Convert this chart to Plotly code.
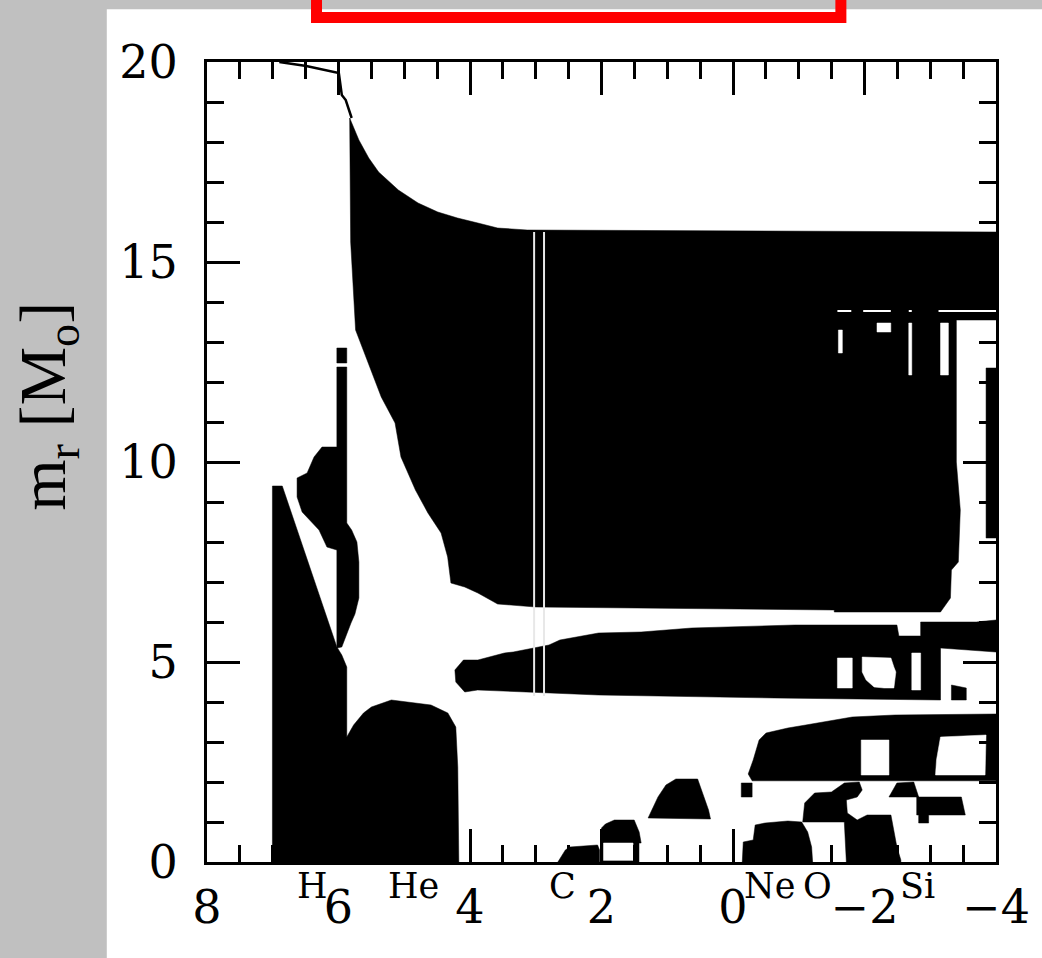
import plotly.graph_objects as go

# ---------------- data (x = log10 time to collapse [yr], y = m_r [Msun]) -------------
x_ticks = [8, 6, 4, 2, 0, -2, -4]
x_ticktext = ["8", "6", "4", "2", "0", "\u22122", "\u22124"]
y_ticks = [0, 5, 10, 15, 20]

elements = ["H", "He", "C", "Ne", "O", "Si"]
element_x = [6.40, 4.86, 2.60, -0.56, -1.28, -2.80]

# stellar surface (total mass)
surface_t = [6.90, 6.49, 5.995, 5.95, 5.89, 5.80]
surface_m = [20.0, 19.9, 19.725, 19.175, 19.05, 18.6]

# convective envelope
envelope = [(5.83, 18.6), (5.69, 18.05), (5.54, 17.6), (5.39, 17.25), (5.09, 16.8),
            (4.79, 16.475), (4.49, 16.25), (4.19, 16.1), (3.88, 15.975), (3.58, 15.85),
            (3.13, 15.8), (-4.0, 15.75), (-4.0, 13.55), (-3.397, 13.55), (-3.397, 10.0),
            (-3.457, 8.8), (-3.427, 7.5), (-3.322, 7.3), (-3.307, 6.6), (-3.156, 6.25),
            (-1.54, 6.25), (-1.54, 6.3), (3.0, 6.375), (3.58, 6.45), (3.88, 6.725),
            (4.08, 6.875), (4.29, 6.975), (4.34, 7.625), (4.44, 8.225), (4.64, 8.725),
            (4.83, 9.3), (5.05, 10.125), (5.14, 10.975), (5.35, 11.625), (5.74, 13.3),
            (5.815, 15.5)]
envelope_strip = [(-3.849, 12.35), (-4.0, 12.35), (-4.0, 8.1), (-3.849, 8.1)]
envelope_gaps = [
    [(-1.603, 13.3), (-1.663, 13.3), (-1.663, 12.725), (-1.603, 12.725)],
    [(-2.19, 13.475), (-2.40, 13.475), (-2.40, 13.25), (-2.19, 13.25)],
    [(-2.673, 13.475), (-2.719, 13.475), (-2.719, 12.175), (-2.673, 12.175)],
    [(-3.156, 13.475), (-3.276, 13.475), (-3.276, 12.175), (-3.156, 12.175)],
]
gap_line_x = [-1.588, -1.799, None, -1.98, -2.40, None, -2.673, -2.719, None, -3.126, -4.0]
gap_line_y = [13.775, 13.775, None, 13.775, 13.775, None, 13.775, 13.775, None, 13.775, 13.775]
split_x = [3.025, 3.025, None, 2.874, 2.874]
split_y = [15.75, 4.15, None, 15.75, 4.15]

# central hydrogen + helium burning cores
core_hhe = [(7.005, 0), (7.005, 9.4), (6.855, 9.4), (6.025, 5.375), (5.95, 5.175),
            (5.874, 4.875), (5.874, 3.125), (5.77, 3.425), (5.62, 3.725), (5.50, 3.875),
            (5.196, 4.05), (4.593, 3.925), (4.337, 3.725), (4.216, 3.375), (4.186, 2.375),
            (4.17, 0)]

# hydrogen shell
h_shell = [(6.025, 12.375), (5.874, 12.375), (5.874, 8.475), (5.80, 8.3), (5.72, 8.0),
           (5.69, 7.5), (5.69, 6.6), (5.75, 6.2), (5.81, 5.975), (5.95, 5.375),
           (6.025, 5.35), (6.025, 7.8), (6.176, 7.875), (6.296, 8.3), (6.553, 8.75),
           (6.63, 9.125), (6.63, 9.6), (6.477, 9.725), (6.372, 10.125), (6.251, 10.375),
           (6.025, 10.375)]
h_shell_top = [(6.025, 12.85), (5.874, 12.85), (5.874, 12.475), (6.025, 12.475)]

# helium shell band
he_shell = [(4.23, 4.8), (4.10, 5.05), (3.88, 5.05), (3.477, 5.225), (3.342, 5.25),
            (2.799, 5.425), (2.633, 5.55), (2.045, 5.725), (1.397, 5.75), (0.628, 5.85),
            (-0.94, 5.925), (-2.493, 5.925), (-2.523, 5.65), (-2.854, 5.65), (-2.854, 6.0),
            (-3.70, 6.0), (-4.0, 6.05), (-4.0, 5.25), (-3.156, 5.35), (-3.156, 4.05),
            (-0.638, 4.1), (2.045, 4.175), (3.884, 4.3), (4.08, 4.25), (4.216, 4.5)]
he_shell_gaps = [
    [(-1.588, 5.1), (-1.814, 5.1), (-1.814, 4.35), (-1.588, 4.35)],
    [(-1.965, 5.125), (-2.402, 5.1), (-2.447, 4.875), (-2.477, 4.75), (-2.447, 4.35),
     (-2.297, 4.35), (-2.146, 4.375), (-2.025, 4.55), (-1.965, 4.75)],
    [(-2.719, 5.225), (-2.854, 5.225), (-2.854, 4.3), (-2.719, 4.3)],
]
he_shell_speck = [(-3.322, 4.425), (-3.548, 4.35), (-3.548, 4.05), (-3.322, 4.05)]

# carbon shell band
c_shell_band = [(-0.291, 2.03), (-0.231, 2.2), (-0.307, 2.55), (-0.397, 3.05), (-0.503, 3.225),
                (-0.834, 3.35), (-1.106, 3.425), (-1.543, 3.55), (-1.814, 3.625),
                (-2.462, 3.675), (-4.0, 3.7), (-4.0, 2.03)]
c_shell_gaps = [
    [(-1.95, 3.05), (-2.372, 3.05), (-2.372, 2.175), (-1.95, 2.175)],
    [(-3.156, 3.125), (-3.849, 3.175), (-3.834, 2.175), (-3.08, 2.175), (-3.095, 2.55)],
]
c_shell_speck = [(-0.126, 1.975), (-0.291, 1.975), (-0.291, 1.625), (-0.126, 1.625)]

# carbon core and shells
c_core = [(2.663, 0), (2.55, 0.3), (2.482, 0.375), (2.06, 0.425), (2.03, 0.3), (2.03, 0)]
c_box = [(2.0, 0), (2.0, 0.85), (1.94, 0.95), (1.804, 1.05), (1.503, 1.05), (1.427, 0.75),
         (1.397, 0.475), (1.43, 0.475), (1.43, 0)]
c_box_gap = [(1.97, 0.475), (1.52, 0.475), (1.52, 0.04), (1.97, 0.04)]
c_shell = [(1.291, 1.1), (1.141, 1.625), (1.02, 1.925), (0.869, 2.075), (0.538, 2.075),
           (0.447, 1.625), (0.372, 1.3), (0.342, 1.075)]

# neon core
ne_core = [(-0.141, 0), (-0.156, 0.5), (-0.307, 0.55), (-0.337, 0.925), (-0.488, 0.975),
           (-0.638, 1.0), (-0.834, 1.025), (-1.045, 1.0), (-1.136, 0.75), (-1.196, 0.375),
           (-1.211, 0)]

# oxygen core / shell
o_zone = [(-1.060, 1.0), (-1.090, 1.475), (-1.241, 1.725), (-1.497, 1.75), (-1.693, 1.975),
          (-1.920, 2.0), (-1.965, 1.8), (-1.889, 1.625), (-1.724, 1.55), (-1.739, 1.225),
          (-1.889, 1.05), (-2.040, 1.175), (-2.402, 1.175), (-2.447, 0.725), (-2.493, 0.375),
          (-2.553, 0.05), (-2.553, 0), (-1.724, 0), (-1.693, 0.875), (-1.693, 1.0)]

# silicon zones
si_zone1 = [(-2.372, 1.625), (-2.493, 1.975), (-2.749, 2.0), (-2.824, 1.625)]
si_zone2 = [(-2.794, 1.625), (-3.473, 1.625), (-3.533, 1.175), (-2.975, 1.175),
            (-2.975, 0.975), (-2.824, 0.975), (-2.824, 1.175), (-2.794, 1.175)]

# ---------------- figure -----------------------------------------------------------
fig = go.Figure()


def poly(pts, color):
    xs = [p[0] for p in pts] + [pts[0][0]]
    ys = [p[1] for p in pts] + [pts[0][1]]
    fig.add_trace(go.Scatter(x=xs, y=ys, mode="lines", fill="toself",
                             fillcolor=color, line=dict(color=color, width=0.5),
                             hoverinfo="skip", showlegend=False))


for zone in [envelope, envelope_strip, core_hhe, h_shell, h_shell_top, he_shell,
             c_shell_band, c_core, c_box, c_shell, ne_core, o_zone, si_zone1, si_zone2]:
    poly(zone, "black")

for gap in envelope_gaps + he_shell_gaps + c_shell_gaps + [c_box_gap]:
    poly(gap, "white")

for speck in [he_shell_speck, c_shell_speck]:
    poly(speck, "black")

fig.add_trace(go.Scatter(x=split_x, y=split_y, mode="lines",
                         line=dict(color="#e8e8e8", width=2), hoverinfo="skip",
                         showlegend=False))
fig.add_trace(go.Scatter(x=gap_line_x, y=gap_line_y, mode="lines",
                         line=dict(color="white", width=2), hoverinfo="skip",
                         showlegend=False))
fig.add_trace(go.Scatter(x=surface_t, y=surface_m, mode="lines",
                         line=dict(color="black", width=2.5), hoverinfo="skip",
                         showlegend=False))

tick_font = dict(family="DejaVu Serif", size=46, color="black")

fig.update_xaxes(range=[8, -4], tickvals=x_ticks, ticktext=x_ticktext,
                 ticks="inside", ticklen=33, tickwidth=3, tickcolor="black",
                 minor=dict(dtick=0.5, tick0=0, ticks="inside", ticklen=17,
                            tickwidth=3, tickcolor="black"),
                 showline=True, linewidth=3, linecolor="black", mirror="ticks",
                 showgrid=False, zeroline=False, tickfont=tick_font,
                 ticklabelstandoff=3)
fig.update_yaxes(range=[0, 20], tickvals=y_ticks,
                 ticks="inside", ticklen=33, tickwidth=3, tickcolor="black",
                 minor=dict(dtick=1, tick0=0, ticks="inside", ticklen=17,
                            tickwidth=3, tickcolor="black"),
                 showline=True, linewidth=3, linecolor="black", mirror="ticks",
                 showgrid=False, zeroline=False, tickfont=tick_font,
                 ticklabelstandoff=17)

annotations = []
for name, xv in zip(elements, element_x):
    annotations.append(dict(x=xv, y=0, xref="x", yref="y", text=name, showarrow=False,
                            xanchor="center", yanchor="middle", yshift=-24,
                            font=dict(family="DejaVu Serif", size=35, color="black")))
annotations.append(dict(x=-0.203, y=0.57, xref="paper", yref="paper",
                        text="m<sub>r</sub> [M<sub>o</sub>]", showarrow=False,
                        textangle=-90, xanchor="center", yanchor="middle",
                        font=dict(family="Liberation Serif", size=66, color="black")))

shapes = [
    dict(type="rect", xref="paper", yref="paper", x0=-0.127, x1=1.06, y0=-0.13, y1=1.066,
         fillcolor="white", line=dict(width=0), layer="below"),
    dict(type="rect", xref="paper", yref="paper", x0=0.1388, x1=0.8034, y0=1.0556, y1=1.11,
         fillcolor="rgba(0,0,0,0)", line=dict(color="#ff0000", width=11), layer="above"),
]

fig.update_layout(width=1042, height=958, autosize=False,
                  margin=dict(l=207, r=39, t=62, b=96),
                  paper_bgcolor="#c0c0c0", plot_bgcolor="white",
                  annotations=annotations, shapes=shapes, showlegend=False)

fig.write_html("out.html", config={"displayModeBar": False},
               post_script="document.body.style.margin='0px';"
                           "document.body.style.background='#c0c0c0';")
